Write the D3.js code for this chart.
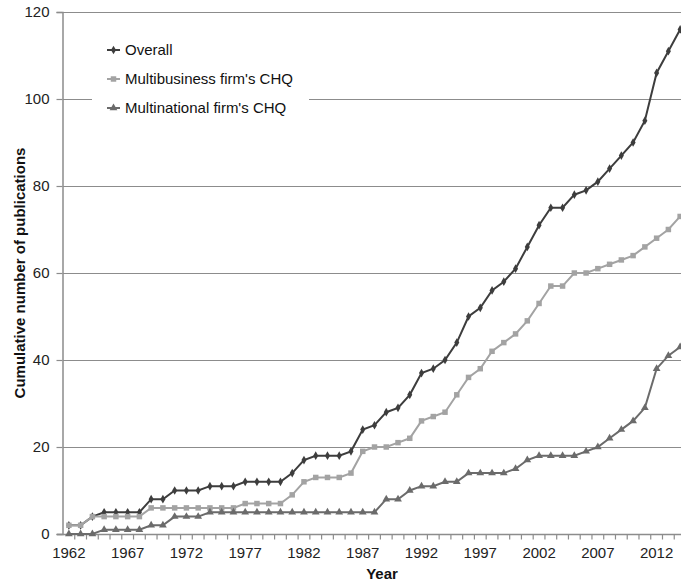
<!DOCTYPE html>
<html>
<head>
<meta charset="utf-8">
<script src="https://cdn.jsdelivr.net/npm/d3@7"></script>
<style>
  body { margin: 0; background: #fff; }
  svg { font-family: "Liberation Sans", Arial, sans-serif; }
</style>
</head>
<body>
<div id="chartContainer"></div>
<script>
var years = d3.range(1962, 2015);
var overall = [2, 2, 4, 5, 5, 5, 5, 8, 8, 10, 10, 10, 11, 11, 11, 12, 12, 12, 12, 14,
    17, 18, 18, 18, 19, 24, 25, 28, 29, 32, 37, 38, 40, 44, 50, 52, 56, 58, 61, 66,
    71, 75, 75, 78, 79, 81, 84, 87, 90, 95, 106, 111, 116];
var multibusiness = [2, 2, 4, 4, 4, 4, 4, 6, 6, 6, 6, 6, 6, 6, 6, 7, 7, 7, 7, 9,
    12, 13, 13, 13, 14, 19, 20, 20, 21, 22, 26, 27, 28, 32, 36, 38, 42, 44, 46, 49,
    53, 57, 57, 60, 60, 61, 62, 63, 64, 66, 68, 70, 73];
var multinational = [0, 0, 0, 1, 1, 1, 1, 2, 2, 4, 4, 4, 5, 5, 5, 5, 5, 5, 5, 5,
    5, 5, 5, 5, 5, 5, 5, 8, 8, 10, 11, 11, 12, 12, 14, 14, 14, 14, 15, 17,
    18, 18, 18, 18, 19, 20, 22, 24, 26, 29, 38, 41, 43];
var yTicks = [0, 20, 40, 60, 80, 100, 120];
var xTickLabels = [1962, 1967, 1972, 1977, 1982, 1987, 1992, 1997, 2002, 2007, 2012];

var seriesNames = ["Overall", "Multibusiness firm's CHQ", "Multinational firm's CHQ"];
var seriesValues = [overall, multibusiness, multinational];
var seriesColors = ["#3d3d3d", "#a3a3a3", "#6b6b6b"];
var seriesSymbols = [d3.symbolDiamond, d3.symbolSquare, d3.symbolTriangle];
var symbolSizes = [22, 30, 26];

var W = 681, H = 581;
var margin = { top: 12, left: 63, bottom: 47 };
var plotRight = 686;
var fontSize = 15;

var svg = d3.select("#chartContainer").append("svg")
    .attr("width", W).attr("height", H);

var x = d3.scaleBand().domain(years).range([margin.left, plotRight]);
var y = d3.scaleLinear().domain([0, 120]).range([H - margin.bottom, margin.top]);
var cx = function (yr) { return x(yr) + x.bandwidth() / 2; };

// gridlines
svg.append("g").selectAll("line")
    .data(yTicks.slice(1))
    .enter().append("line")
    .attr("x1", margin.left).attr("x2", W)
    .attr("y1", function (d) { return y(d) + 0.5; })
    .attr("y2", function (d) { return y(d) + 0.5; })
    .attr("stroke", "#8c8c8c").attr("stroke-width", 1.2);

// y axis
var yAxis = svg.append("g")
    .attr("transform", "translate(" + (margin.left - 0.5) + ",0)")
    .call(d3.axisLeft(y).tickValues(yTicks).tickSize(6).tickPadding(7));
yAxis.select(".domain").attr("stroke", "#8c8c8c").attr("stroke-width", 1.5);
yAxis.selectAll(".tick line").attr("stroke", "#8c8c8c").attr("stroke-width", 1.2);
yAxis.selectAll("text").attr("font-size", fontSize).attr("fill", "#222");

// x axis
var xAxis = svg.append("g")
    .attr("transform", "translate(0," + (y(0) + 0.5) + ")");
xAxis.append("line")
    .attr("x1", margin.left - 6).attr("x2", W)
    .attr("stroke", "#8c8c8c").attr("stroke-width", 1.5);
xAxis.selectAll(".xt")
    .data(years.slice(1))
    .enter().append("line")
    .attr("class", "xt")
    .attr("x1", function (d) { return x(d); })
    .attr("x2", function (d) { return x(d); })
    .attr("y1", 0).attr("y2", 5)
    .attr("stroke", "#8c8c8c").attr("stroke-width", 1.2);
xAxis.selectAll("text")
    .data(xTickLabels)
    .enter().append("text")
    .attr("x", function (d) { return cx(d); })
    .attr("y", 23)
    .attr("text-anchor", "middle")
    .attr("font-size", fontSize).attr("fill", "#222")
    .text(function (d) { return d; });

// axis titles
svg.append("text")
    .attr("x", 382).attr("y", 579)
    .attr("text-anchor", "middle")
    .attr("font-size", fontSize).attr("font-weight", "bold").attr("fill", "#111")
    .text("Year");
svg.append("text")
    .attr("transform", "translate(25," + ((y(0) + y(120)) / 2) + ") rotate(-90)")
    .attr("text-anchor", "middle")
    .attr("font-size", fontSize).attr("font-weight", "bold").attr("fill", "#111")
    .text("Cumulative number of publications");

// series
var line = d3.line()
    .x(function (d, i) { return cx(years[i]); })
    .y(function (d) { return y(d); });

// Excel order: overall drawn first, multinational last (on top)
[0, 1, 2].forEach(function (s) {
    var g = svg.append("g");
    g.append("path")
        .datum(seriesValues[s])
        .attr("d", line)
        .attr("fill", "none")
        .attr("stroke", seriesColors[s])
        .attr("stroke-width", 2);
    g.selectAll("path.m")
        .data(seriesValues[s])
        .enter().append("path")
        .attr("class", "m")
        .attr("transform", function (d, i) { return "translate(" + cx(years[i]) + "," + y(d) + ")"; })
        .attr("d", d3.symbol().type(seriesSymbols[s]).size(symbolSizes[s]))
        .attr("fill", seriesColors[s]);
});

// legend
var legend = svg.append("g");
legend.append("rect")
    .attr("x", 92).attr("y", 30).attr("width", 217).attr("height", 95)
    .attr("fill", "#fff");
seriesNames.forEach(function (name, i) {
    var ly = 50 + i * 29;
    legend.append("line")
        .attr("x1", 107).attr("x2", 120).attr("y1", ly).attr("y2", ly)
        .attr("stroke", seriesColors[i]).attr("stroke-width", 2);
    legend.append("path")
        .attr("transform", "translate(113.5," + ly + ")")
        .attr("d", d3.symbol().type(seriesSymbols[i]).size(symbolSizes[i]))
        .attr("fill", seriesColors[i]);
    legend.append("text")
        .attr("x", 125).attr("y", ly + 5)
        .attr("font-size", fontSize).attr("fill", "#111")
        .text(name);
});
</script>
</body>
</html>
